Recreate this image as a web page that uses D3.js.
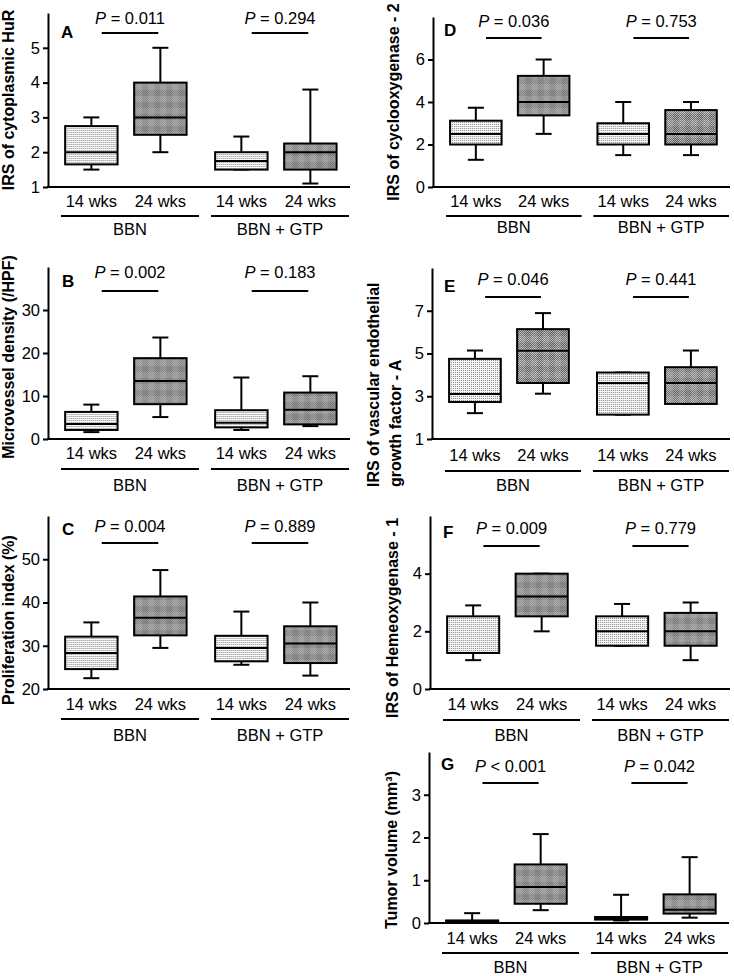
<!DOCTYPE html>
<html>
<head>
<meta charset="utf-8">
<script src="https://cdn.jsdelivr.net/npm/d3@7"></script>
<style>
  body { margin: 0; background: #fff; }
  svg { display: block; font-family: "Liberation Sans", Arial, sans-serif; }
</style>
</head>
<body>
<div id="chart"></div>
<script>
// Categories
var weeks = ["14 wks", "24 wks"];
var groups = ["BBN", "BBN + GTP"];
var letters = ["A", "B", "C", "D", "E", "F", "G"];

// Axis titles (one entry per line)
var yTitles = [
  ["IRS of cytoplasmic HuR"],
  ["Microvessel density (/HPF)"],
  ["Proliferation index (%)"],
  ["IRS of cyclooxygenase - 2"],
  ["IRS of vascular endothelial", "growth factor - A"],
  ["IRS of Hemeoxygenase - 1"],
  ["Tumor volume (mm\u00b3)"]
];

var yDomains = [[1, 6], [0, 40], [20, 60], [0, 8], [1, 9], [0, 6], [0, 4]];
var yTicks = [[1, 2, 3, 4, 5], [0, 10, 20, 30], [20, 30, 40, 50], [0, 2, 4, 6], [1, 3, 5, 7], [0, 2, 4], [0, 1, 2, 3]];

// P values: [BBN, BBN + GTP]
var pTexts = [
  ["= 0.011", "= 0.294"],
  ["= 0.002", "= 0.183"],
  ["= 0.004", "= 0.889"],
  ["= 0.036", "= 0.753"],
  ["= 0.046", "= 0.441"],
  ["= 0.009", "= 0.779"],
  ["< 0.001", "= 0.042"]
];

// Box stats [min, q1, median, q3, max] for BBN 14, BBN 24, GTP 14, GTP 24
var statsA = [[1.5, 1.65, 2.0, 2.75, 3.0], [2.0, 2.5, 3.0, 4.0, 5.0], [1.5, 1.5, 1.75, 2.0, 2.45], [1.1, 1.5, 2.0, 2.25, 3.8]];
var statsB = [[1.6, 2.1, 3.5, 6.3, 8.0], [5.1, 8.1, 13.5, 18.8, 23.6], [2.1, 2.7, 3.8, 6.7, 14.3], [3.0, 3.4, 6.8, 10.8, 14.6]];
var statsC = [[22.5, 24.6, 28.3, 32.1, 35.4], [29.5, 32.4, 36.5, 41.4, 47.5], [25.6, 26.4, 29.5, 32.3, 37.9], [23.1, 26.0, 30.5, 34.5, 40.0]];
var statsD = [[1.28, 2.0, 2.5, 3.12, 3.73], [2.5, 3.37, 4.0, 5.23, 6.0], [1.5, 2.0, 2.5, 3.0, 4.0], [1.5, 2.0, 2.5, 3.62, 4.0]];
var statsE = [[2.21, 2.73, 3.1, 4.75, 5.14], [3.12, 3.62, 5.13, 6.14, 6.89], [2.14, 2.14, 3.62, 4.11, 4.11], [2.64, 2.64, 3.62, 4.36, 5.14]];
var statsF = [[1.0, 1.25, 1.25, 2.52, 2.9], [2.0, 2.52, 3.21, 4.0, 4.0], [1.5, 1.5, 2.0, 2.52, 2.95], [1.0, 1.5, 2.0, 2.64, 3.0]];
var statsG = [[0.0, 0.01, 0.03, 0.06, 0.23], [0.30, 0.45, 0.84, 1.37, 2.08], [0.06, 0.08, 0.11, 0.14, 0.66], [0.125, 0.22, 0.31, 0.67, 1.54]];
var allStats = [statsA, statsB, statsC, statsD, statsE, statsF, statsG];

// Panel placement on the page (wk/ul/gl = offsets below the x axis)
var layout = [
  {x0: 48,  x1: 350, yTop: 13,  yBot: 187, tx: [14],       ty: [100],      anchor: "middle", pY: 24,  lineY: 33,  letX: 61,  letY: 38,  wk: 20, ul: 29, gl: 48},
  {x0: 48,  x1: 350, yTop: 267, yBot: 439, tx: [14],       ty: [357],      anchor: "middle", pY: 278, lineY: 291, letX: 62,  letY: 287, wk: 20, ul: 30, gl: 52},
  {x0: 48,  x1: 350, yTop: 516, yBot: 689, tx: [14],       ty: [620],      anchor: "middle", pY: 532, lineY: 543, letX: 62,  letY: 535, wk: 21, ul: 30, gl: 52},
  {x0: 433, x1: 730, yTop: 17,  yBot: 187, tx: [399],      ty: [102],      anchor: "middle", pY: 27,  lineY: 38,  letX: 444, letY: 36,  wk: 20, ul: 29, gl: 46},
  {x0: 432, x1: 730, yTop: 268, yBot: 439, tx: [379, 401], ty: [487, 487], anchor: "start",  pY: 285, lineY: 297, letX: 444, letY: 292, wk: 22, ul: 32, gl: 52},
  {x0: 430, x1: 730, yTop: 516, yBot: 689, tx: [398],      ty: [618],      anchor: "middle", pY: 534, lineY: 546, letX: 443, letY: 538, wk: 21, ul: 31, gl: 52},
  {x0: 429, x1: 729, yTop: 752, yBot: 923, tx: [397],      ty: [850],      anchor: "middle", pY: 772, lineY: 783, letX: 441, letY: 770, wk: 21, ul: 30, gl: 50}
];

var width = 734;
var height = 976;
var fontSize = 16.5;

var svg = d3.select("#chart")
    .append("svg")
    .attr("width", width)
    .attr("height", height);

// Fill textures
var defs = svg.append("defs");

var light = defs.append("pattern")
    .attr("id", "light")
    .attr("width", 2).attr("height", 2)
    .attr("patternUnits", "userSpaceOnUse");
light.append("rect").attr("width", 2).attr("height", 2).attr("fill", "#f8f8f8");
light.append("rect").attr("width", 1).attr("height", 1).attr("fill", "#888");

var chk = defs.append("pattern")
    .attr("id", "chk")
    .attr("width", 2).attr("height", 2)
    .attr("patternUnits", "userSpaceOnUse");
chk.append("rect").attr("width", 2).attr("height", 2).attr("fill", "#b0b0b0");
chk.append("rect").attr("width", 1).attr("height", 1).attr("fill", "#5a5a5a");
chk.append("rect").attr("x", 1).attr("y", 1).attr("width", 1).attr("height", 1).attr("fill", "#5a5a5a");

var dark = defs.append("pattern")
    .attr("id", "dark")
    .attr("width", 12).attr("height", 12)
    .attr("patternUnits", "userSpaceOnUse");
dark.append("rect").attr("width", 12).attr("height", 12).attr("fill", "url(#chk)");
dark.append("rect").attr("width", 6).attr("height", 12).attr("fill", "#fff").attr("opacity", 0.12);
dark.append("rect").attr("width", 12).attr("height", 6).attr("fill", "#fff").attr("opacity", 0.12);

layout.forEach(function(L, i) {
  var g = svg.append("g").attr("class", "panel");

  var y = d3.scaleLinear()
      .domain(yDomains[i])
      .range([L.yBot, L.yTop]);

  var gx = d3.scaleBand()
      .domain(groups)
      .range([L.x0 + 13, L.x1 - 1])
      .paddingInner(0.08);

  var wx = d3.scalePoint()
      .domain(weeks)
      .range([0, gx.bandwidth()])
      .padding(0.5)
      .align(0.44);

  var boxW = wx.step() * 0.76;
  var capW = 16;

  // y axis
  var yAxis = g.append("g")
      .attr("transform", "translate(" + L.x0 + ",0)")
      .call(d3.axisLeft(y)
        .tickValues(yTicks[i])
        .tickFormat(d3.format("d"))
        .tickSize(5)
        .tickPadding(3)
        .tickSizeOuter(0));
  yAxis.selectAll("path, line").attr("stroke", "#000").attr("stroke-width", 2);
  yAxis.selectAll("text")
      .attr("font-family", "'Liberation Sans', Arial, sans-serif")
      .attr("font-size", fontSize)
      .attr("fill", "#000");

  // x axis baseline
  g.append("line")
      .attr("x1", L.x0 - 1).attr("x2", L.x1)
      .attr("y1", L.yBot).attr("y2", L.yBot)
      .attr("stroke", "#000").attr("stroke-width", 2);

  var boxes = allStats[i].map(function(s, j) {
    return {grp: groups[Math.floor(j / 2)], wk: weeks[j % 2], s: s, dark: j % 2 === 1};
  });

  var bx = g.selectAll(".box").data(boxes).enter()
      .append("g")
      .attr("class", "box")
      .attr("transform", function(d) {
        return "translate(" + (gx(d.grp) + wx(d.wk)) + ",0)";
      });

  // whiskers
  bx.append("line")
      .attr("x1", 0).attr("x2", 0)
      .attr("y1", function(d) { return y(d.s[4]); })
      .attr("y2", function(d) { return y(d.s[0]); })
      .attr("stroke", "#000").attr("stroke-width", 2);
  bx.append("line")
      .attr("x1", -capW / 2).attr("x2", capW / 2)
      .attr("y1", function(d) { return y(d.s[4]); })
      .attr("y2", function(d) { return y(d.s[4]); })
      .attr("stroke", "#000").attr("stroke-width", 2);
  bx.append("line")
      .attr("x1", -capW / 2).attr("x2", capW / 2)
      .attr("y1", function(d) { return y(d.s[0]); })
      .attr("y2", function(d) { return y(d.s[0]); })
      .attr("stroke", "#000").attr("stroke-width", 2);

  // box
  bx.append("rect")
      .attr("x", -boxW / 2)
      .attr("width", boxW)
      .attr("y", function(d) { return y(d.s[3]); })
      .attr("height", function(d) { return y(d.s[1]) - y(d.s[3]); })
      .attr("fill", function(d) { return d.dark ? "url(#dark)" : "url(#light)"; })
      .attr("stroke", "#000").attr("stroke-width", 2);

  // median
  bx.append("line")
      .attr("x1", -boxW / 2).attr("x2", boxW / 2)
      .attr("y1", function(d) { return y(d.s[2]); })
      .attr("y2", function(d) { return y(d.s[2]); })
      .attr("stroke", "#000").attr("stroke-width", 2);

  // week labels
  bx.append("text")
      .attr("x", 0)
      .attr("y", L.yBot + L.wk)
      .attr("text-anchor", "middle")
      .attr("font-size", fontSize)
      .text(function(d) { return d.wk; });

  // group underline, label and P value
  groups.forEach(function(grp, k) {
    var gc = gx(grp) + gx.bandwidth() / 2;

    g.append("line")
        .attr("x1", gx(grp)).attr("x2", gx(grp) + gx.bandwidth())
        .attr("y1", L.yBot + L.ul).attr("y2", L.yBot + L.ul)
        .attr("stroke", "#000").attr("stroke-width", 2);

    g.append("text")
        .attr("x", gc)
        .attr("y", L.yBot + L.gl)
        .attr("text-anchor", "middle")
        .attr("font-size", fontSize)
        .text(grp);

    var pt = g.append("text")
        .attr("x", gc)
        .attr("y", L.pY)
        .attr("text-anchor", "middle")
        .attr("font-size", fontSize);
    pt.append("tspan").attr("font-style", "italic").text("P");
    pt.append("tspan").text(" " + pTexts[i][k]);

    var half = gx.bandwidth() * 0.205;
    g.append("line")
        .attr("x1", gc - half).attr("x2", gc + half)
        .attr("y1", L.lineY).attr("y2", L.lineY)
        .attr("stroke", "#000").attr("stroke-width", 2);
  });

  // panel letter
  g.append("text")
      .attr("x", L.letX)
      .attr("y", L.letY)
      .attr("font-size", 17)
      .attr("font-weight", "bold")
      .text(letters[i]);

  // y title
  yTitles[i].forEach(function(line, k) {
    g.append("text")
        .attr("transform", "translate(" + L.tx[k] + "," + L.ty[k] + ") rotate(-90)")
        .attr("text-anchor", L.anchor)
        .attr("font-size", 16)
        .attr("font-weight", "bold")
        .text(line);
  });
});
</script>
</body>
</html>
